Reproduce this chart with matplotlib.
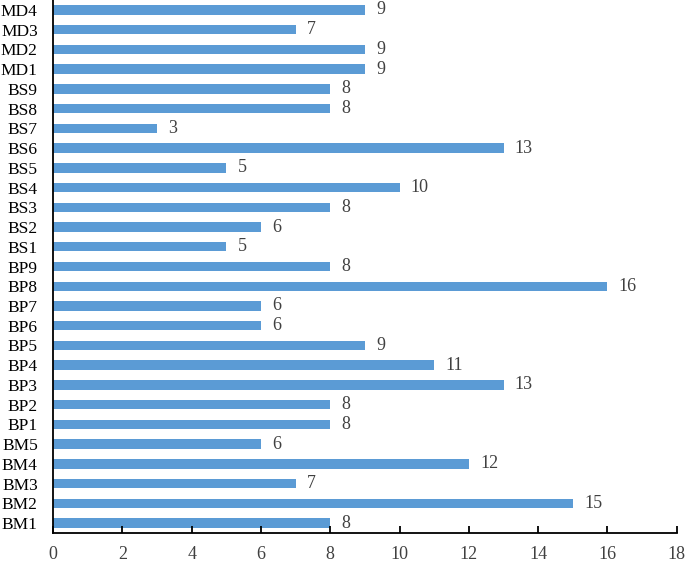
import matplotlib
matplotlib.use("Agg")
import matplotlib.pyplot as plt

categories = ["BM1", "BM2", "BM3", "BM4", "BM5",
              "BP1", "BP2", "BP3", "BP4", "BP5", "BP6", "BP7", "BP8", "BP9",
              "BS1", "BS2", "BS3", "BS4", "BS5", "BS6", "BS7", "BS8", "BS9",
              "MD1", "MD2", "MD3", "MD4"]
values = [8, 15, 7, 12, 6,
          8, 8, 13, 11, 9, 6, 6, 16, 8,
          5, 6, 8, 10, 5, 13, 3, 8, 8,
          9, 9, 7, 9]
xticks = [0, 2, 4, 6, 8, 10, 12, 14, 16, 18]

plt.rcParams['font.family'] = ['Liberation Serif', 'DejaVu Serif']

fig = plt.figure(figsize=(6.85, 5.61), dpi=100)
ax = fig.add_axes([0.0774, 0.0499, 0.9106, 0.9501])

y = list(range(len(categories)))
ax.barh(y, values, height=0.48, color="#5B9BD5")
for yi, v in zip(y, values):
    ax.annotate(str(v), (v, yi), xytext=(8, 0), textcoords="offset points",
                va="center", ha="left", fontsize=13, color="#404040")

ax.set_xlim(0, 18)
ax.set_ylim(-0.5, len(categories) - 0.5)
ax.set_xticks(xticks)
ax.set_xticklabels([str(t) for t in xticks], fontsize=13, color="#404040")
ax.set_yticks(y)
ax.set_yticklabels(categories, fontsize=12.5)
ax.tick_params(axis="x", direction="in", length=5, width=1.3, pad=9)
ax.tick_params(axis="y", length=0, pad=11)
ax.spines["top"].set_visible(False)
ax.spines["right"].set_visible(False)
ax.spines["left"].set_linewidth(1.3)
ax.spines["bottom"].set_linewidth(1.3)

fig.savefig("out.png", dpi=100)
